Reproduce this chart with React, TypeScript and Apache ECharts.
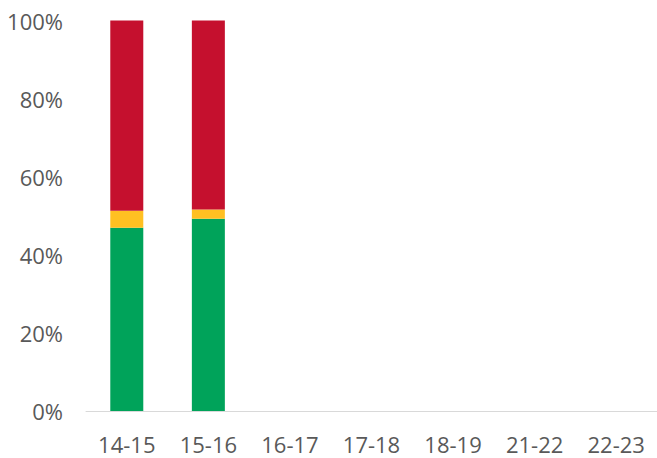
import React, { useEffect, useRef } from "react";
import * as echarts from "echarts";

const categories = ["14-15", "15-16", "16-17", "17-18", "18-19", "21-22", "22-23"];
const greenValues = [46.9, 49.2, null, null, null, null, null];
const yellowValues = [4.4, 2.4, null, null, null, null, null];
const redValues = [48.7, 48.4, null, null, null, null, null];
const yTicks = { min: 0, max: 100, interval: 20 };

export default function App() {
  const ref = useRef<HTMLDivElement>(null);
  useEffect(() => {
    if (!ref.current) return;
    const chart = echarts.init(ref.current, null, { renderer: "svg" });
    const textStyle = { color: "#595959", fontFamily: "Open Sans", fontSize: 22 };
    chart.setOption({
      animation: false,
      grid: { left: 86, top: 20.5, width: 573, height: 390.5, containLabel: false },
      xAxis: {
        type: "category",
        data: categories,
        axisLine: { show: true, lineStyle: { color: "#d9d9d9", width: 1 } },
        axisTick: { show: false },
        axisLabel: { ...textStyle, margin: 22, interval: 0 },
      },
      yAxis: {
        type: "value",
        min: yTicks.min,
        max: yTicks.max,
        interval: yTicks.interval,
        axisLine: { show: false },
        axisTick: { show: false },
        splitLine: { show: false },
        axisLabel: { ...textStyle, margin: 23, formatter: "{value}%" },
      },
      series: [
        { name: "green", type: "bar", stack: "s", data: greenValues, barWidth: 33, itemStyle: { color: "#00A35A" } },
        { name: "yellow", type: "bar", stack: "s", data: yellowValues, barWidth: 33, itemStyle: { color: "#FFC022" } },
        { name: "red", type: "bar", stack: "s", data: redValues, barWidth: 33, itemStyle: { color: "#C5102E" } },
      ],
    });
    return () => chart.dispose();
  }, []);
  return (
    <div
      ref={ref}
      style={{ position: "absolute", left: 0, top: 0, width: 657, height: 458, background: "#fff" }}
    />
  );
}
